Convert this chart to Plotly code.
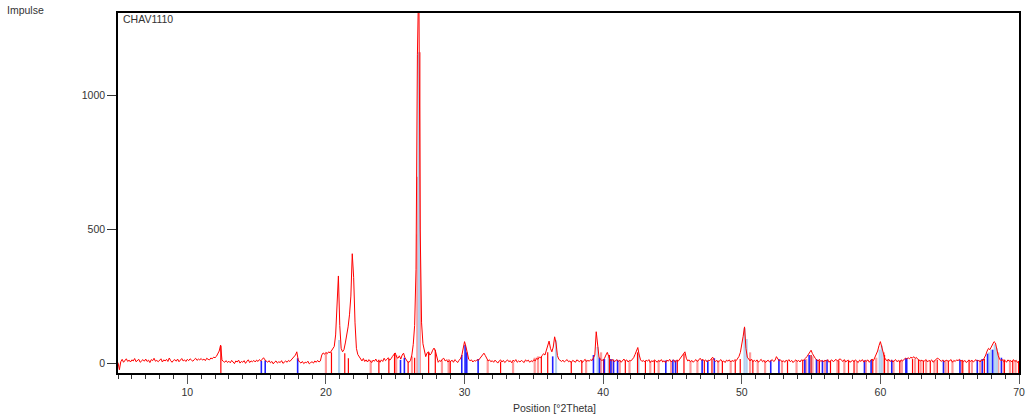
import plotly.graph_objects as go

# ---------------- data ----------------
# measured profile, sampled every 0.1 deg 2Theta from 5.0 to 70.0 (one row per degree)
two_theta_start = 5.0
two_theta_step = 0.1
intensity_rows = [
    [2, -25, 5, 14, 3, 10, 16, 6, 11, 4],            # 5
    [12, 8, 17, 5, 10, 14, 3, 9, 13, 7],              # 6
    [15, 6, 11, 2, 13, 9, 18, 7, 10, 5],              # 7
    [11, 16, 4, 12, 8, 14, 6, 19, 9, 3],              # 8
    [10, 13, 7, 15, 5, 11, 17, 8, 12, 6],             # 9
    [14, 9, 16, 11, 7, 13, 18, 10, 15, 12],           # 10
    [17, 11, 15, 9, 18, 14, 12, 19, 16, 22],          # 11
    [20, 25, 33, 45, 67, 12, 6, 3, 9, 2],             # 12
    [7, 1, 10, 5, -2, 8, 4, 11, 0, 6],                # 13
    [3, 9, -1, 7, 12, 2, 8, 5, 10, 4],                # 14
    [11, 6, 13, 8, 15, 20, 12, 7, 3, 9],              # 15
    [1, 6, -3, 4, 8, 0, 5, 2, 9, -1],                 # 16
    [5, 8, 3, 10, 6, 13, 18, 25, 30, 42],             # 17
    [12, 4, 0, 6, -2, 3, 1, 7, -3, 2],                # 18
    [5, 0, 8, 3, 10, 4, 8, 30, 38, 33],               # 19
    [40, 35, 42, 38, 46, 50, 62, 105, 200, 325],      # 20
    [140, 55, 42, 50, 75, 100, 135, 180, 250, 408],   # 21
    [320, 150, 55, 32, 22, 14, 8, 17, 6, 12],         # 22
    [4, 13, 9, 2, 11, 7, 15, 5, 10, 3],               # 23
    [12, 6, 18, 9, 14, 20, 11, 16, 25, 30],           # 24
    [38, 22, 18, 27, 15, 30, 37, 20, 10, 4],          # 25
    [3, 10, 30, 70, 140, 350, 1150, 1450, 500, 150],  # 26
    [72, 40, 24, 38, 42, 30, 35, 48, 56, 45],         # 27
    [22, 3, 10, 6, 15, 18, 8, 12, 4, 9],              # 28
    [6, 11, 3, 13, 8, 2, 10, 16, 28, 50],             # 29
    [80, 62, 30, 14, 9, 12, 4, 10, 7, 13],            # 30
    [10, 18, 25, 30, 37, 28, 14, 8, 12, 5],           # 31
    [9, 3, 11, 6, 0, 8, 12, 4, 10, 2],                # 32
    [7, 12, 5, 9, 1, 11, 6, 13, 3, 8],                # 33
    [4, 10, 6, 2, 12, 7, 11, 3, 9, 5],                # 34
    [13, 8, 18, 14, 22, 20, 28, 35, 30, 45],          # 35
    [62, 82, 55, 42, 60, 98, 75, 28, 14, 10],         # 36
    [6, 11, 4, 9, 13, 5, 8, 2, 10, 7],                # 37
    [3, 12, 8, 5, 11, 2, 9, 14, 6, 10],               # 38
    [7, 13, 9, 18, 30, 117, 60, 22, 14, 10],          # 39
    [12, 18, 30, 40, 25, 12, 8, 14, 5, 10],           # 40
    [13, 6, 11, 3, 9, 15, 7, 12, 4, 10],              # 41
    [8, 14, 20, 32, 45, 58, 30, 12, 6, 10],           # 42
    [4, 11, 7, 13, 2, 9, 5, 12, 8, 3],                # 43
    [10, 6, 13, 4, 9, 1, 11, 7, 14, 5],               # 44
    [8, 12, 3, 10, 6, 14, 22, 30, 38, 42],            # 45
    [18, 8, 12, 5, 10, 3, 9, 13, 6, 11],              # 46
    [18, 10, 14, 7, 12, 4, 11, 9, 14, 22],            # 47
    [12, 6, 10, 3, 9, 13, 5, 8, 2, 11],               # 48
    [7, 12, 4, 10, 6, 13, 9, 18, 25, 40],             # 49
    [65, 100, 135, 55, 22, 12, 8, 15, 5, 10],         # 50
    [6, 12, 3, 9, 14, 5, 10, 2, 8, 11],               # 51
    [4, 9, 13, 6, 10, 24, 15, 8, 12, 5],              # 52
    [9, 3, 11, 7, 13, 5, 10, 2, 8, 12],               # 53
    [6, 10, 4, 12, 8, 12, 18, 24, 32, 40],            # 54
    [48, 35, 25, 18, 12, 8, 14, 6, 10, 4],            # 55
    [11, 7, 13, 3, 9, 12, 5, 10, 14, 8],              # 56
    [12, 16, 10, 6, 13, 4, 9, 11, 3, 8],              # 57
    [10, 5, 12, 7, 2, 11, 6, 13, 4, 9],               # 58
    [7, 12, 3, 10, 15, 9, 20, 30, 45, 65],            # 59
    [80, 60, 38, 20, 12, 8, 14, 6, 11, 4],            # 60
    [9, 13, 5, 10, 3, 12, 8, 14, 18, 15],             # 61
    [20, 16, 22, 18, 24, 17, 21, 14, 12, 8],          # 62
    [11, 5, 9, 13, 4, 10, 7, 12, 3, 8],               # 63
    [14, 18, 16, 10, 6, 12, 4, 9, 11, 5],             # 64
    [8, 13, 3, 10, 6, 12, 9, 14, 7, 11],              # 65
    [5, 10, 2, 9, 12, 6, 11, 4, 8, 13],               # 66
    [7, 10, 4, 12, 9, 18, 30, 45, 55, 50],            # 67
    [60, 72, 80, 75, 50, 28, 15, 9, 13, 5],           # 68
    [10, 3, 12, 7, 9, 4, 13, 6, 10, 2],               # 69
    [8],                                              # 70
]

# reference pattern sticks (position in deg 2Theta, height in counts)
red_pos = [12.42, 20.40, 21.36, 21.62, 23.82, 24.54, 24.95, 25.93, 26.40, 27.41, 27.89,
           28.97, 32.60, 35.54, 36.00, 37.70, 38.46, 40.03, 40.45, 41.60, 42.48, 43.05,
           43.70, 45.35, 45.83, 47.30, 47.85, 48.60, 49.53, 49.89, 50.80, 53.30, 54.40,
           55.00, 55.60, 56.40, 57.00, 57.70, 58.10, 59.45, 60.30, 61.40, 62.32, 62.75,
           63.10, 63.60, 64.10, 64.90, 65.90, 66.40, 67.50, 68.95, 69.55, 69.97]
red_top = [65, 40, 37, 18, 12, 15, 37, 5, 20, 40, 50,
           8, 5, 25, 40, 5, 10, 15, 30, 10, 40, 8,
           10, 12, 35, 10, 15, 8, 10, 15, 10, 8, 12,
           30, 10, 8, 10, 8, 10, 12, 30, 10, 15, 12,
           10, 8, 12, 10, 8, 10, 15, 12, 10, 8]

pink_pos = [20.00, 23.23, 25.07, 26.21, 26.60, 26.63, 26.78, 28.37, 28.85, 31.67, 33.50,
            35.06, 35.30, 38.77, 39.85, 40.60, 41.20, 41.90, 43.40, 44.00, 44.90, 46.30,
            46.80, 48.30, 49.20, 50.60, 51.15, 51.68, 52.90, 53.95, 54.65, 55.10, 55.50,
            56.00, 56.90, 57.40, 58.30, 58.95, 59.70, 60.25, 60.55, 60.95, 61.55, 62.50,
            62.90, 63.30, 63.90, 64.70, 65.20, 65.95, 66.60, 67.20, 68.50, 68.90, 69.35,
            69.75]
pink_top = [37, 10, 30, 25, 480, 695, 1160, 10, 15, 12, 5,
            20, 25, 12, 40, 15, 10, 8, 8, 10, 8, 8,
            10, 10, 8, 40, 8, 10, 8, 10, 15, 25, 12,
            10, 10, 10, 8, 12, 20, 40, 15, 10, 12, 15,
            12, 10, 10, 10, 8, 10, 10, 12, 40, 15, 12,
            10]

blue_pos = [15.34, 15.62, 17.96, 25.38, 25.66, 29.80, 30.04, 30.16, 30.98, 36.36, 39.30,
            39.73, 40.09, 40.56, 40.75, 41.04, 44.52, 45.03, 45.22, 47.14, 47.55, 48.02,
            52.09, 52.68, 54.55, 54.86, 55.39, 55.82, 56.15, 58.85, 59.33, 60.82, 61.84,
            61.90, 64.55, 65.74, 66.99, 67.35, 67.73, 68.10, 68.73]
blue_top = [8, 10, 18, 12, 20, 30, 67, 40, 15, 25, 30,
            20, 15, 15, 12, 12, 10, 12, 10, 12, 10, 18,
            10, 15, 12, 30, 15, 10, 12, 10, 12, 12, 18,
            18, 10, 12, 12, 15, 35, 50, 20]

lightblue_pos = [20.95, 26.70, 30.10, 36.60, 39.60, 40.40, 42.55, 50.20, 50.35, 55.00,
                 59.95, 60.10, 67.85, 68.00, 68.25, 68.40]
lightblue_top = [86, 1160, 50, 85, 60, 25, 35, 130, 90, 30,
                 50, 65, 40, 50, 70, 55]

x_ticks = [10, 20, 30, 40, 50, 60, 70]
y_ticks = [0, 500, 1000]
sample_name = "CHAV1110"
y_title = "Impulse"
x_title = "Position [°2Theta]"

# ---------------- build ----------------
intensity = [v for row in intensity_rows for v in row]
two_theta = [round(two_theta_start + i * two_theta_step, 2) for i in range(len(intensity))]

STICK_BASE = -60


def stick_xy(pos, top):
    xs, ys = [], []
    for p, t in zip(pos, top):
        xs += [p, p, None]
        ys += [STICK_BASE, t, None]
    return xs, ys


fig = go.Figure()
for pos, top, color, width in [
    (pink_pos, pink_top, "#ff9a9a", 2.2),
    (lightblue_pos, lightblue_top, "#b4d2f0", 2.2),
    (red_pos, red_top, "#ff0000", 1.2),
    (blue_pos, blue_top, "#2020ff", 1.6),
]:
    sx, sy = stick_xy(pos, top)
    fig.add_trace(go.Scatter(x=sx, y=sy, mode="lines", line=dict(color=color, width=width),
                             hoverinfo="skip", connectgaps=False))

fig.add_trace(go.Scatter(x=two_theta, y=intensity, mode="lines",
                         line=dict(color="#ff0000", width=1), hoverinfo="skip"))

L, R, T, B = 118, 9, 13, 43
W, H = 1034, 416
PW, PH = W - L - R, H - T - B

font_family = "Liberation Sans, Arial, sans-serif"
fig.update_layout(
    width=W, height=H,
    margin=dict(l=L, r=R, t=T, b=B),
    paper_bgcolor="white", plot_bgcolor="white",
    showlegend=False,
    font=dict(family=font_family, size=10.5, color="#333333"),
    xaxis=dict(range=[5, 70], tickvals=x_ticks, ticks="outside", ticklen=9, tickwidth=1,
               tickcolor="#555555", showgrid=False, zeroline=False, showline=True,
               linecolor="black", linewidth=1.6, mirror=True,
               minor=dict(dtick=1, ticks="outside", ticklen=4, tickcolor="#333333", showgrid=False),
               tickfont=dict(size=10.5, color="#333333")),
    yaxis=dict(range=[-37, 1306], tickvals=y_ticks, ticks="outside", ticklen=9, tickwidth=1,
               tickcolor="#333333", showgrid=False, zeroline=False, showline=True,
               linecolor="black", linewidth=1.6, mirror=True,
               tickfont=dict(size=10.5, color="#333333")),
    annotations=[
        dict(text=y_title, xref="paper", yref="paper", x=(4 - L) / PW, y=1 + (T - 10) / PH,
             xanchor="left", yanchor="middle", showarrow=False,
             font=dict(size=10.5, color="#333333")),
        dict(text=sample_name, xref="paper", yref="paper", x=3 / PW, y=1 - 6 / PH,
             xanchor="left", yanchor="middle", showarrow=False,
             font=dict(size=10.5, color="#333333")),
        dict(text=x_title, xref="paper", yref="paper", x=(557 - L) / PW, y=-(408 - (H - B)) / PH,
             xanchor="center", yanchor="middle", showarrow=False,
             font=dict(size=10.5, color="#333333")),
    ],
)

fig.write_html("out.html", config={"displayModeBar": False},
               post_script="document.body.style.margin='0';")
